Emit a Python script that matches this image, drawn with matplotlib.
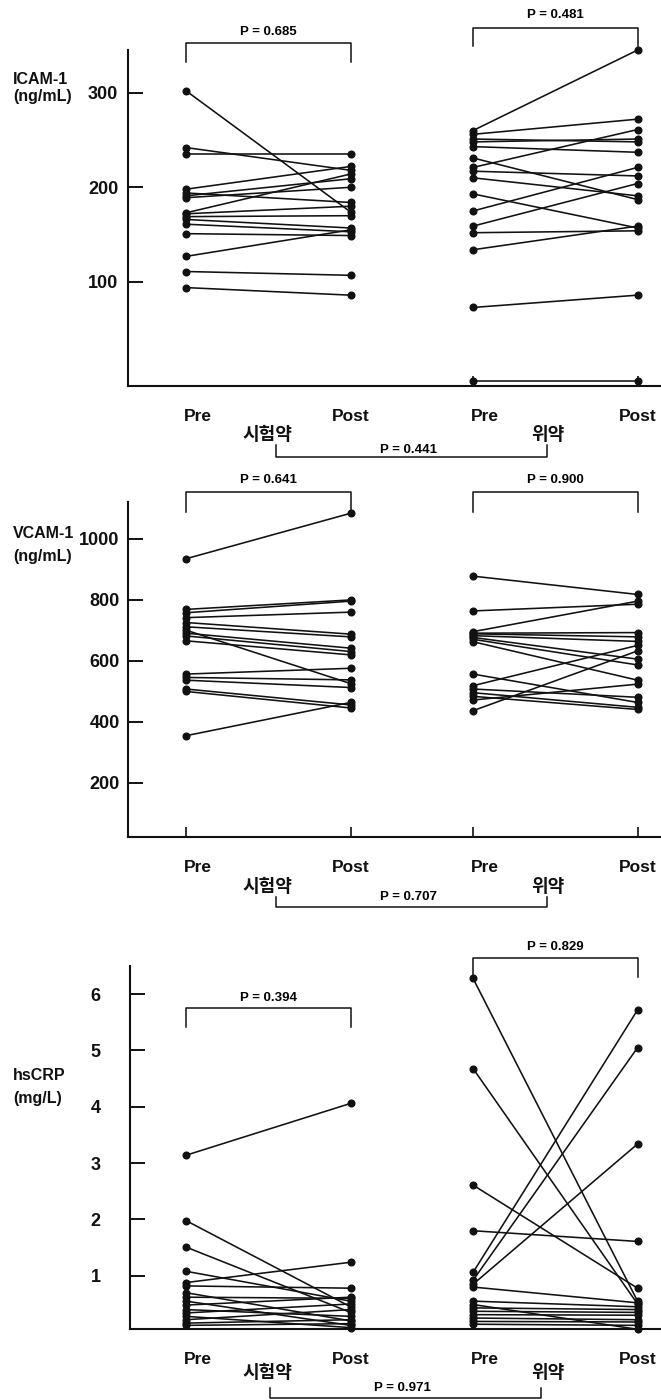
import matplotlib
matplotlib.use('Agg')
import matplotlib.pyplot as plt
from matplotlib.lines import Line2D
from matplotlib import transforms

# ---------------- data ----------------
categories = ['Pre', 'Post', 'Pre', 'Post']
groups = ['시험약', '위약']
ylabels = [['ICAM-1', '(ng/mL)'], ['VCAM-1', '(ng/mL)'], ['hsCRP', '(mg/L)']]

icam_ticks = [100, 200, 300]
icam_drug_pre = [302, 242, 235, 198, 194, 191, 189, 173, 172, 169, 166, 161, 151, 127, 111, 94]
icam_drug_post = [174, 218, 235, 222, 184, 209, 200, 214, 180, 170, 157, 153, 149, 155, 107, 86]
icam_plac_pre = [260, 256, 251, 248, 243, 231, 221, 217, 210, 193, 175, 159, 152, 134, 73, -5]
icam_plac_post = [345, 272, 248, 251, 237, 187, 261, 212, 191, 157, 221, 204, 154, 159, 86, -5]
icam_p = ['0.685', '0.481', '0.441']

vcam_ticks = [200, 400, 600, 800, 1000]
vcam_drug_pre = [934, 768, 757, 741, 725, 711, 700, 690, 681, 665, 556, 545, 536, 507, 499, 354]
vcam_drug_post = [1083, 799, 795, 759, 687, 678, 525, 641, 630, 619, 575, 537, 512, 455, 445, 463]
vcam_plac_pre = [877, 763, 695, 690, 688, 682, 676, 670, 662, 556, 518, 507, 495, 483, 471, 436]
vcam_plac_post = [817, 785, 795, 692, 678, 663, 605, 586, 536, 463, 650, 480, 447, 440, 523, 632]
vcam_p = ['0.641', '0.900', '0.707']

crp_ticks = [1, 2, 3, 4, 5, 6]
crp_drug_pre = [3.14, 1.98, 1.51, 1.08, 0.88, 0.82, 0.70, 0.62, 0.55, 0.48, 0.40, 0.34, 0.28, 0.22, 0.16, 0.12]
crp_drug_post = [4.06, 0.45, 0.35, 0.55, 1.24, 0.78, 0.20, 0.60, 0.12, 0.62, 0.28, 0.50, 0.08, 0.40, 0.22, 0.15]
crp_plac_pre = [6.28, 4.68, 2.61, 1.80, 1.06, 0.92, 0.85, 0.80, 0.55, 0.49, 0.43, 0.37, 0.31, 0.25, 0.19, 0.14]
crp_plac_post = [0.55, 0.50, 0.78, 1.61, 5.72, 5.05, 3.34, 0.52, 0.45, 0.05, 0.40, 0.35, 0.30, 0.22, 0.18, 0.12]
crp_p = ['0.394', '0.829', '0.971']

# ---------------- layout ----------------
W, H = 661, 1400
fig = plt.figure(figsize=(W / 100, H / 100), dpi=100)
LAT = ['Liberation Sans', 'DejaVu Sans']
KR = ['Noto Sans CJK KR', 'DejaVu Sans']

xpos = [0, 1, 1.745, 2.745]
PX0, PXU = 186.0, 164.5   # pixel of position 0, pixels per unit


def fx(x):
    return x / W


def fy(y):
    return 1 - y / H


def bracket(x1, x2, y, yleg, lw=1.1):
    fig.add_artist(Line2D([fx(x1), fx(x1), fx(x2), fx(x2)],
                          [fy(yleg), fy(y), fy(y), fy(yleg)],
                          transform=fig.transFigure, color='#111111', lw=lw))


def ptext(xc, yc, p):
    fig.text(fx(xc), fy(yc), 'P = ' + p, ha='center', va='center',
             fontsize=9.5, fontweight='bold', family=LAT)


panels = [
    dict(pre1=icam_drug_pre, post1=icam_drug_post, pre2=icam_plac_pre, post2=icam_plac_post,
         ticks=icam_ticks, ylab=ylabels[0], p=icam_p, left=128, top=50, bot=386,
         ylim=(-10, 345.1), ypad=7, xticks=[2, 3], ylab_y=(79, 97),
         br1=(43, 62, 32), br2=(28, 46, 15),
         grp_y=435, pb_y=450, bb=(276, 547, 457, 445)),
    dict(pre1=vcam_drug_pre, post1=vcam_drug_post, pre2=vcam_plac_pre, post2=vcam_plac_post,
         ticks=vcam_ticks, ylab=ylabels[1], p=vcam_p, left=128, top=501.7, bot=836.7,
         ylim=(23, 1121), ypad=6, xticks=[0, 1, 2, 3], ylab_y=(533, 556),
         br1=(492, 512, 480), br2=(492, 512, 480),
         grp_y=887, pb_y=897, bb=(276, 547, 907, 897)),
    dict(pre1=crp_drug_pre, post1=crp_drug_post, pre2=crp_plac_pre, post2=crp_plac_post,
         ticks=crp_ticks, ylab=ylabels[2], p=crp_p, left=130, top=966, bot=1329.3,
         ylim=(0.05, 6.5), ypad=21, xticks=[0, 1, 2, 3], ylab_y=(1076, 1098),
         br1=(1008, 1027, 998), br2=(958, 977, 947),
         grp_y=1373, pb_y=1388, bb=(270, 541, 1398, 1388)),
]

for P in panels:
    ax = fig.add_axes([fx(P['left']), fy(P['bot']), 1 - fx(P['left']), (P['bot'] - P['top']) / H])
    ax.set_xlim((P['left'] - PX0) / PXU, (W - PX0) / PXU)
    ax.set_ylim(*P['ylim'])
    for s in ['top', 'right']:
        ax.spines[s].set_visible(False)
    for s in ['left', 'bottom']:
        ax.spines[s].set_linewidth(1.5)
        ax.spines[s].set_color('#111111')

    for a, b in zip(P['pre1'], P['post1']):
        ax.plot([xpos[0], xpos[1]], [a, b], '-o', color='#111111', lw=1.15, ms=4.8, clip_on=False)
    for a, b in zip(P['pre2'], P['post2']):
        ax.plot([xpos[2], xpos[3]], [a, b], '-o', color='#111111', lw=1.15, ms=4.8, clip_on=False)

    ax.set_yticks(P['ticks'])
    ax.set_yticklabels([str(t) for t in P['ticks']])
    ax.tick_params(axis='y', direction='in', length=10.5, width=1.4, pad=P['ypad'],
                   labelsize=13, colors='#111111')
    for lab in ax.get_yticklabels():
        lab.set_fontweight('bold')
        lab.set_family(LAT)
    ax.set_xticks([xpos[i] for i in P['xticks']])
    ax.set_xticklabels([])
    ax.tick_params(axis='x', direction='in', length=7.5, width=1.2, colors='#111111')

    # category labels
    bt = transforms.blended_transform_factory(ax.transData, fig.transFigure)
    for i, c in enumerate(categories):
        off = 12 if c == 'Pre' else 0
        tr = bt + transforms.ScaledTranslation(off / 100, 0, fig.dpi_scale_trans)
        ax.text(xpos[i], fy(P['bot'] + 35), c, transform=tr, ha='center', va='baseline',
                fontsize=12.5, fontweight='bold', family=LAT, color='#111111')

    # y label
    for line, yy in zip(P['ylab'], P['ylab_y']):
        fig.text(fx(13), fy(yy), line, ha='left', va='center', fontsize=11.5,
                 fontweight='bold', family=LAT, color='#111111')

    # within-group brackets
    px = [PX0 + x * PXU for x in xpos]
    yb, yl, yt = P['br1']
    bracket(px[0], px[1], yb, yl)
    ptext((px[0] + px[1]) / 2, yt, P['p'][0])
    yb, yl, yt = P['br2']
    bracket(px[2], px[3], yb, yl)
    ptext((px[2] + px[3]) / 2, yt, P['p'][1])

    # group labels + between-group bracket
    fig.text(fx(267), fy(P['grp_y']), groups[0], ha='center', va='center', fontsize=13,
             fontweight='bold', family=KR, color='#111111')
    fig.text(fx(548), fy(P['grp_y']), groups[1], ha='center', va='center', fontsize=13,
             fontweight='bold', family=KR, color='#111111')
    x1, x2, y, yl = P['bb']
    bracket(x1, x2, y, yl)
    ptext((x1 + x2) / 2 - 3, P['pb_y'], P['p'][2])

fig.savefig('out.png', dpi=100, facecolor='white')
